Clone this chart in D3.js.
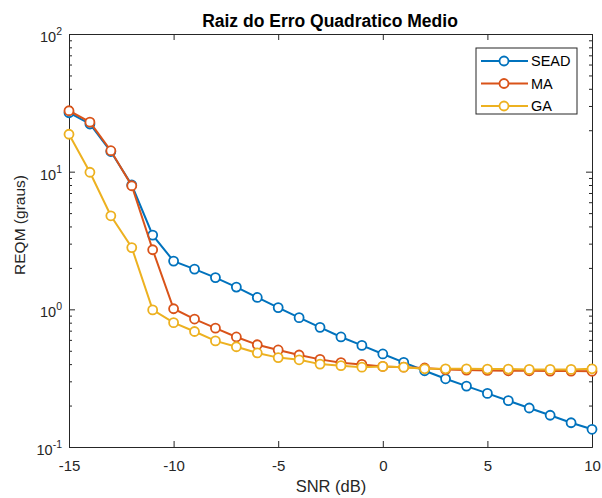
<!DOCTYPE html>
<html>
<head>
<meta charset="utf-8">
<title>Raiz do Erro Quadratico Medio</title>
<script src="https://d3js.org/d3.v7.min.js"></script>
<style>
    body { margin: 0; background: #fff; }
    svg { display: block; font-family: "Liberation Sans", Arial, sans-serif; }
</style>
</head>
<body>
<div id="chart"></div>
<script>
// data
const snr = [-15, -14, -13, -12, -11, -10, -9, -8, -7, -6, -5, -4, -3, -2, -1, 0, 1, 2, 3, 4, 5, 6, 7, 8, 9, 10];
const sead = [26.8, 22.2, 14.0, 8.0, 3.46, 2.24, 1.96, 1.70, 1.45, 1.22, 1.03, 0.87, 0.74, 0.63, 0.547, 0.474, 0.412, 0.358, 0.313, 0.277, 0.245, 0.217, 0.192, 0.170, 0.150, 0.1345];
const ma = [27.7, 22.9, 14.2, 7.9, 2.71, 1.01, 0.85, 0.73, 0.63, 0.553, 0.507, 0.466, 0.433, 0.41, 0.398, 0.385, 0.38, 0.375, 0.365, 0.362, 0.36, 0.358, 0.358, 0.356, 0.356, 0.355];
const ga = [18.7, 9.9, 4.78, 2.81, 0.99, 0.80, 0.69, 0.59, 0.535, 0.482, 0.446, 0.43, 0.40, 0.39, 0.38, 0.385, 0.38, 0.37, 0.37, 0.37, 0.368, 0.368, 0.366, 0.366, 0.366, 0.37];
const seriesNames = ['SEAD', 'MA', 'GA'];
const seriesColors = ['#0072BD', '#D95319', '#EDB120'];
const xTicks = [-15, -10, -5, 0, 5, 10];
const yDecades = [-1, 0, 1, 2];

const W = 602, H = 498;
const margin = { top: 34, right: 10, bottom: 51, left: 69 };
const width = 592 - margin.left;
const height = 447 - margin.top;

const svg = d3.select('#chart').append('svg')
    .attr('width', W)
    .attr('height', H);

const g = svg.append('g')
    .attr('transform', 'translate(' + margin.left + ',' + margin.top + ')');

const x = d3.scaleLinear().domain([-15, 10]).range([0, width]);
const y = d3.scaleLog().domain([0.1, 100]).range([height, 0]);

const axisColor = '#262626';

// minor ticks for the log axis
const minorVals = [];
for (let e = -1; e < 2; e++) {
    for (let m = 2; m <= 9; m++) minorVals.push(m * Math.pow(10, e));
}

// left / right axes
g.append('g')
    .call(d3.axisLeft(y).tickValues(yDecades.map(d => Math.pow(10, d))).tickSizeInner(-6).tickSizeOuter(0).tickFormat(''));
g.append('g')
    .call(d3.axisLeft(y).tickValues(minorVals).tickSizeInner(-3).tickSizeOuter(0).tickFormat(''));
g.append('g').attr('transform', 'translate(' + width + ',0)')
    .call(d3.axisRight(y).tickValues(yDecades.map(d => Math.pow(10, d))).tickSizeInner(-6).tickSizeOuter(0).tickFormat(''));
g.append('g').attr('transform', 'translate(' + width + ',0)')
    .call(d3.axisRight(y).tickValues(minorVals).tickSizeInner(-3).tickSizeOuter(0).tickFormat(''));

// bottom / top axes
const xBottom = g.append('g').attr('transform', 'translate(0,' + height + ')')
    .call(d3.axisBottom(x).tickValues(xTicks).tickSizeInner(-6).tickSizeOuter(0).tickPadding(13));
g.append('g')
    .call(d3.axisTop(x).tickValues(xTicks).tickSizeInner(-6).tickSizeOuter(0).tickFormat(''));

g.selectAll('.domain').attr('stroke', axisColor).attr('stroke-width', 1);
g.selectAll('.tick line').attr('stroke', axisColor).attr('stroke-width', 1);
xBottom.selectAll('.tick text')
    .attr('fill', axisColor)
    .style('font-size', '15px')
    .text(d => d);

// y tick labels as 10^n with superscripts
const yLab = g.append('g');
yDecades.forEach(function (e) {
    const t = yLab.append('text')
        .attr('x', -7)
        .attr('y', y(Math.pow(10, e)) + 8)
        .attr('text-anchor', 'end')
        .attr('fill', axisColor)
        .style('font-size', '14.5px');
    t.append('tspan').text('10');
    t.append('tspan').attr('dy', -7).style('font-size', '10.5px').text(String(e));
});

// lines and markers
const allSeries = [sead, ma, ga];
const line = d3.line()
    .x((d, i) => x(snr[i]))
    .y(d => y(d));

allSeries.forEach(function (vals, k) {
    g.append('path')
        .datum(vals)
        .attr('fill', 'none')
        .attr('stroke', seriesColors[k])
        .attr('stroke-width', 2)
        .attr('d', line);
    g.selectAll('.m' + k)
        .data(vals)
        .enter()
        .append('circle')
        .attr('class', 'm' + k)
        .attr('cx', (d, i) => x(snr[i]))
        .attr('cy', d => y(d))
        .attr('r', 4.5)
        .attr('fill', '#fff')
        .attr('stroke', seriesColors[k])
        .attr('stroke-width', 1.8);
});

// title and labels
svg.append('text')
    .attr('x', 330)
    .attr('y', 27)
    .attr('text-anchor', 'middle')
    .attr('fill', '#000')
    .style('font-size', '17.5px')
    .style('font-weight', 'bold')
    .text('Raiz do Erro Quadratico Medio');

svg.append('text')
    .attr('x', 331)
    .attr('y', 492)
    .attr('text-anchor', 'middle')
    .attr('fill', axisColor)
    .style('font-size', '16.5px')
    .text('SNR (dB)');

svg.append('text')
    .attr('transform', 'translate(25,225) rotate(-90)')
    .attr('text-anchor', 'middle')
    .attr('fill', axisColor)
    .style('font-size', '15.5px')
    .text('REQM (graus)');

// legend
const legend = svg.append('g').attr('transform', 'translate(476,48)');
legend.append('rect')
    .attr('width', 101)
    .attr('height', 66)
    .attr('fill', '#fff')
    .attr('stroke', axisColor)
    .attr('stroke-width', 1);
seriesNames.forEach(function (name, k) {
    const yy = 13 + k * 22.5;
    legend.append('line')
        .attr('x1', 5).attr('x2', 52)
        .attr('y1', yy).attr('y2', yy)
        .attr('stroke', seriesColors[k])
        .attr('stroke-width', 2);
    legend.append('circle')
        .attr('cx', 28).attr('cy', yy).attr('r', 4.5)
        .attr('fill', '#fff')
        .attr('stroke', seriesColors[k])
        .attr('stroke-width', 1.8);
    legend.append('text')
        .attr('x', 55).attr('y', yy + 5)
        .attr('fill', '#000')
        .style('font-size', '14.5px')
        .text(name);
});
</script>
</body>
</html>
